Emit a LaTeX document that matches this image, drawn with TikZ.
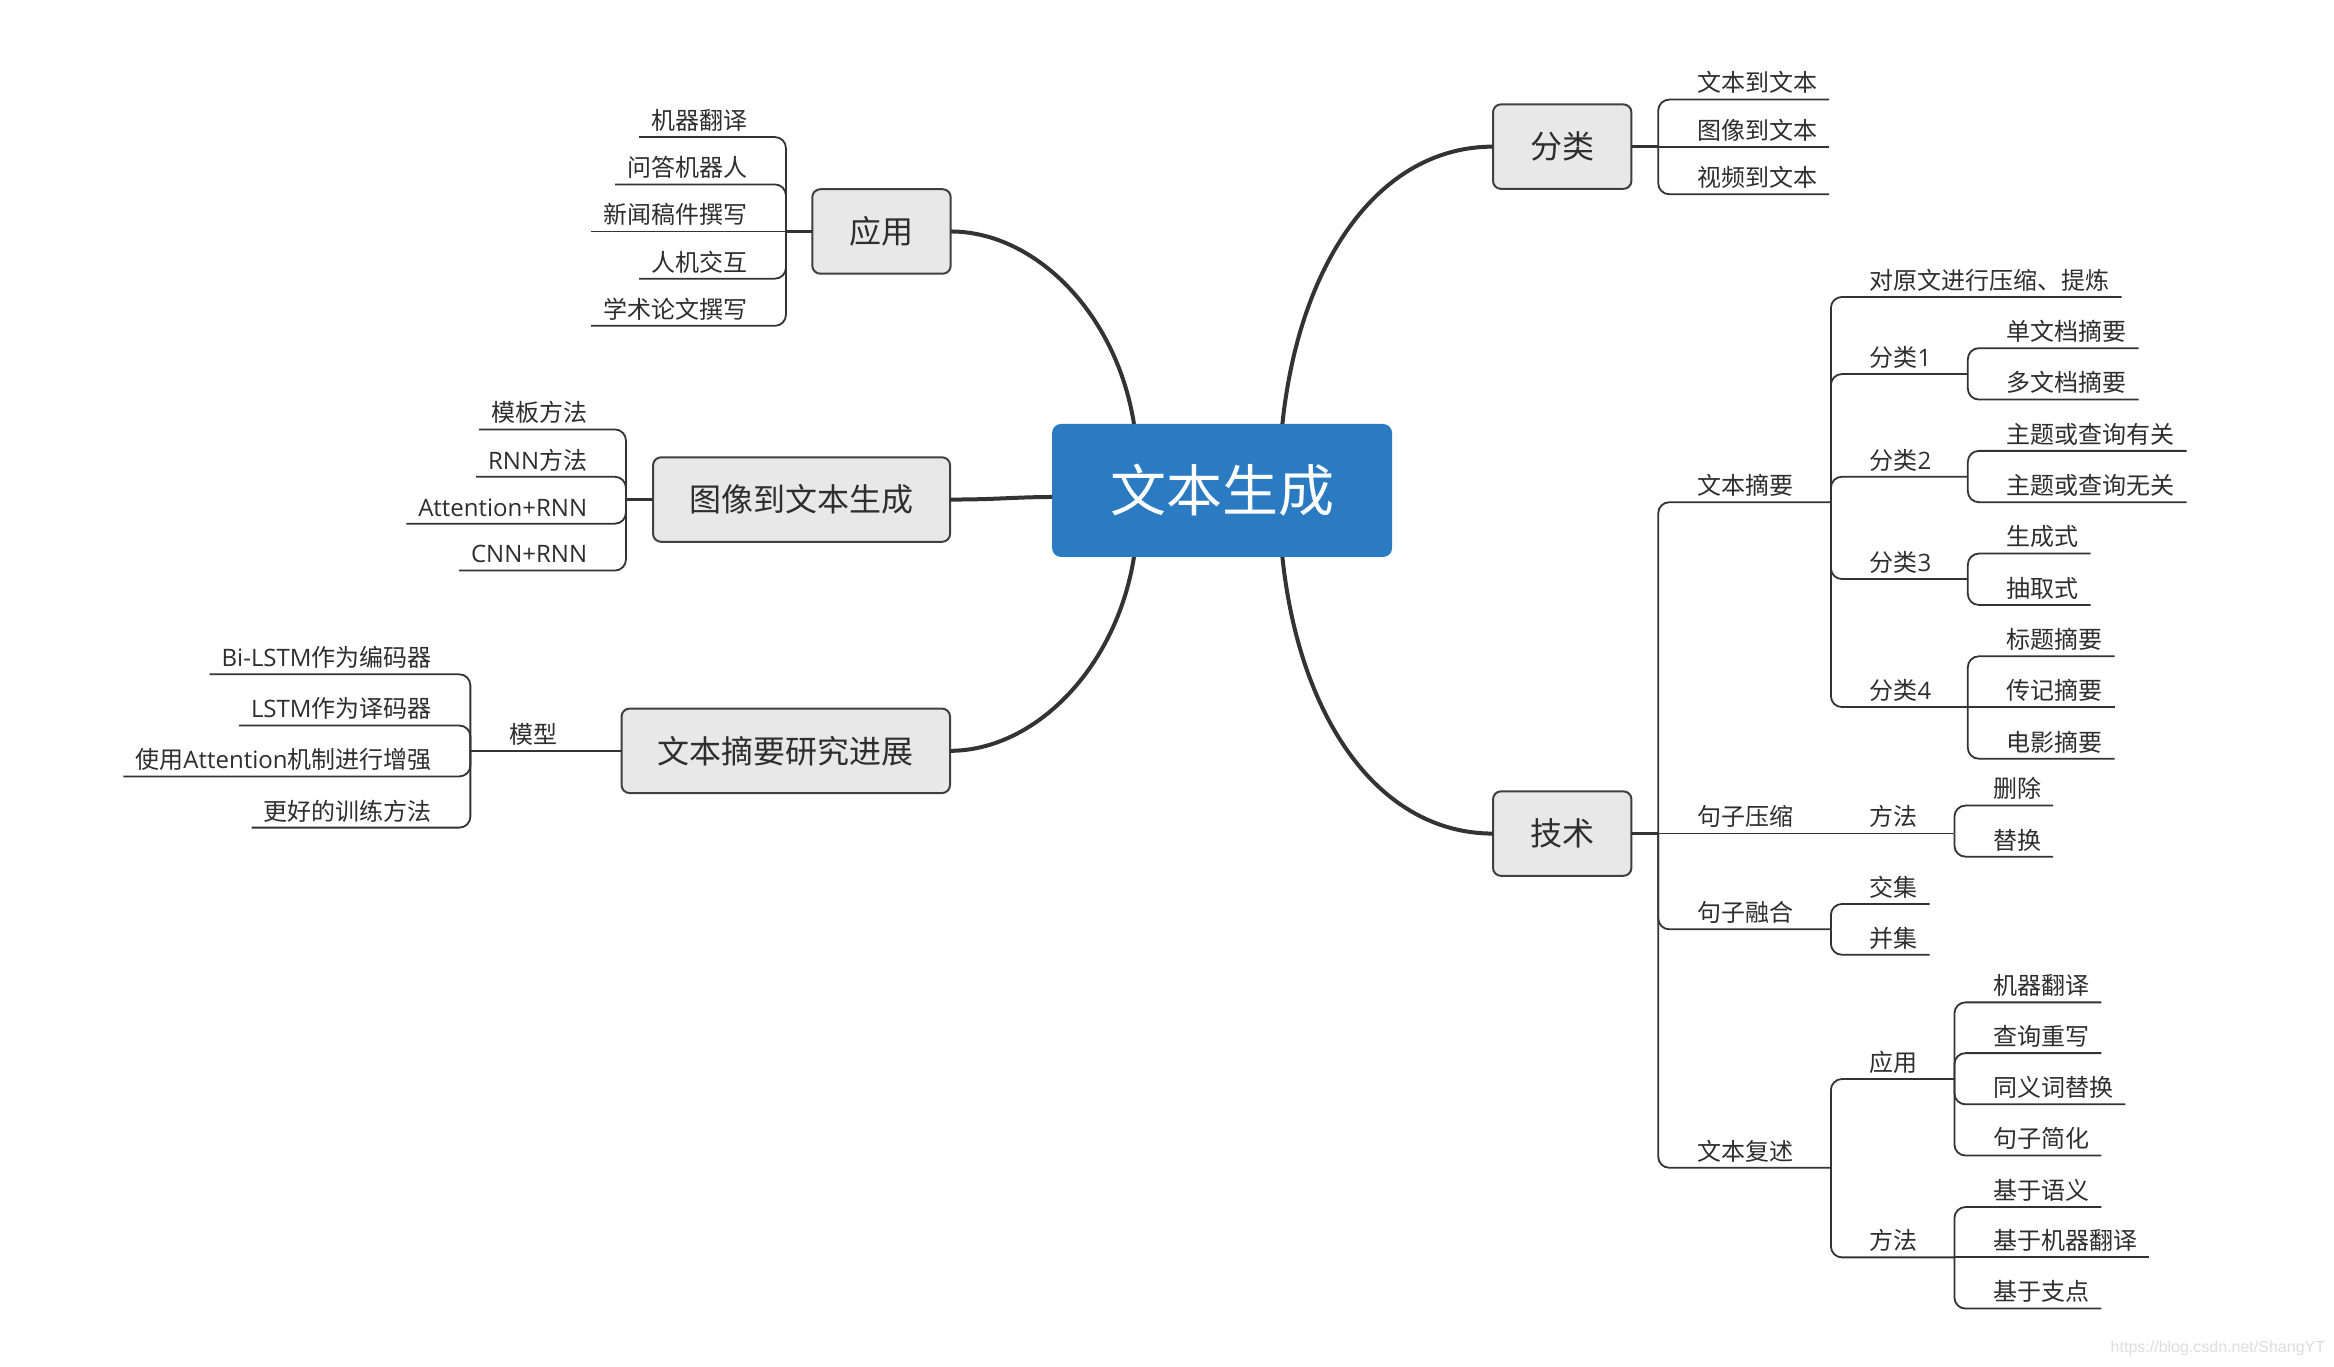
\documentclass[tikz,border=0pt]{standalone}
\usepackage{fontspec}
\setmainfont{Noto Sans CJK SC}
\newfontfamily\lat{Open Sans}
\newfontfamily\wmfont{Liberation Sans}
\definecolor{linec}{HTML}{333333}
\definecolor{boxfill}{HTML}{E8E8E8}
\definecolor{boxdraw}{HTML}{404040}
\definecolor{mainblue}{HTML}{2B7BC3}
\definecolor{txt}{HTML}{2E2E2E}
\tikzset{
 leaf/.style={font=\fontsize{24pt}{28pt}\selectfont, text=txt, inner xsep=12pt, inner ysep=7.6pt, text depth=0pt, outer sep=0pt},
 leafR/.style={leaf, anchor=south west},
 leafL/.style={leaf, anchor=south east},
 tree/.style={draw=linec, line width=1.8pt, rounded corners=11pt},
 boxline/.style={draw=linec, line width=3pt},
 mainline/.style={draw=linec, line width=4pt},
 topic/.style={draw=boxdraw, line width=2pt, fill=boxfill, rounded corners=8pt, font=\fontsize{32pt}{38pt}\selectfont, text=txt, minimum height=84.5pt, inner sep=0pt, outer sep=0pt},
 central/.style={fill=mainblue, rounded corners=9pt, text=white, font=\fontsize{56pt}{64pt}\selectfont, minimum width=340pt, minimum height=133pt, inner sep=0pt, outer sep=0pt},
}
\begin{document}
\begin{tikzpicture}[x=1.4885pt, y=-1.4885pt]
\fill[white] (0,0) rectangle (1568,917.7);
\useasboundingbox (0,0) rectangle (1568,917.7);

% central and topics
\node[central] (c) at (821,329.5) {文本生成};
\node[topic, minimum width=138.4pt] (fenlei) at (1049.5,98.5) {分类};
\node[topic, minimum width=138.4pt] (jishu) at (1049.5,560) {技术};
\node[topic, minimum width=138.4pt] (yingyong) at (592.2,155.5) {应用};
\node[topic, minimum width=297pt] (tuxiang) at (538.5,335.6) {图像到文本生成};
\node[topic, minimum width=328.4pt] (research) at (527.9,504.4) {文本摘要研究进展};

% main curves
\draw[mainline] ([xshift=60.3pt]c.north) .. controls (873,175) and (927,98.5) .. (fenlei.west);
\draw[mainline] ([xshift=60.3pt]c.south) .. controls (873,484) and (927,560) .. (jishu.west);
\draw[mainline] ([xshift=-88.1pt]c.north) .. controls (750,210) and (695,155.5) .. (yingyong.east);
\draw[mainline] ([xshift=-88.1pt]c.south) .. controls (750,449) and (695,504.4) .. (research.east);
\draw[mainline] ([yshift=-6.5pt]c.west) .. controls (680,334) and (670,335.6) .. (tuxiang.east);

% junctions
\coordinate (Jf) at (1114,98.5);
\coordinate (Jt) at (1114,560);
\coordinate (Jzy) at (1230,337.4);
\coordinate (Jff) at (1313,560);
\coordinate (Jrh) at (1230,624.3);
\coordinate (Jfs) at (1230,784.5);
\coordinate (Jc1) at (1322,251.3);
\coordinate (Jc2) at (1322,320.3);
\coordinate (Jc3) at (1322,389);
\coordinate (Jc4) at (1322,475);
\coordinate (Jyy) at (1313,724.9);
\coordinate (Jff2) at (1313,844.7);
\coordinate (Jay) at (528,155.5);
\coordinate (Jtx) at (420.5,335.6);
\coordinate (Jmx) at (316,504.4);

% right: 分类
\node[leafR] (f1) at (1132,66.9) {文本到文本};
\node[leafR] (f2) at (1132,98.5) {图像到文本};
\node[leafR] (f3) at (1132,130.5) {视频到文本};
% right: 技术
\node[leafR] (t1) at (1132,337.4) {文本摘要};
\node[leafR] (t2) at (1132,560) {句子压缩};
\node[leafR] (t3) at (1132,624.3) {句子融合};
\node[leafR] (t4) at (1132,784.5) {文本复述};
\node[leafR] (z0) at (1248,199.5) {对原文进行压缩、提炼};
\node[leafR] (z1) at (1248,251.3) {分类{\lat 1}};
\node[leafR] (z2) at (1248,320.3) {分类{\lat 2}};
\node[leafR] (z3) at (1248,389) {分类{\lat 3}};
\node[leafR] (z4) at (1248,475) {分类{\lat 4}};
\node[leafR] (c11) at (1340,233.9) {单文档摘要};
\node[leafR] (c12) at (1340,268.4) {多文档摘要};
\node[leafR] (c21) at (1340,302.9) {主题或查询有关};
\node[leafR] (c22) at (1340,337.4) {主题或查询无关};
\node[leafR] (c31) at (1340,371.9) {生成式};
\node[leafR] (c32) at (1340,406.4) {抽取式};
\node[leafR] (c41) at (1340,440.9) {标题摘要};
\node[leafR] (c42) at (1340,475) {传记摘要};
\node[leafR] (c43) at (1340,509.7) {电影摘要};
\node[leafR] (s1) at (1248,560) {方法};
\node[leafR] (s11) at (1331,541.2) {删除};
\node[leafR] (s12) at (1331,575.5) {替换};
\node[leafR] (r1) at (1248,607.3) {交集};
\node[leafR] (r2) at (1248,641.4) {并集};
\node[leafR] (p1) at (1248,724.9) {应用};
\node[leafR] (p2) at (1248,844.7) {方法};
\node[leafR] (p11) at (1331,673.4) {机器翻译};
\node[leafR] (p12) at (1331,707.5) {查询重写};
\node[leafR] (p13) at (1331,741.9) {同义词替换};
\node[leafR] (p14) at (1331,776.3) {句子简化};
\node[leafR] (p21) at (1331,810.9) {基于语义};
\node[leafR] (p22) at (1331,844.7) {基于机器翻译};
\node[leafR] (p23) at (1331,879.1) {基于支点};

% left
\node[leafL] (a1) at (510,92.1) {机器翻译};
\node[leafL] (a2) at (510,123.9) {问答机器人};
\node[leafL] (a3) at (510,155.5) {新闻稿件撰写};
\node[leafL] (a4) at (510,187.2) {人机交互};
\node[leafL] (a5) at (510,218.9) {学术论文撰写};
\node[leafL] (i1) at (402.5,288.5) {模板方法};
\node[leafL] (i2) at (402.5,320.3) {{\lat RNN}方法};
\node[leafL] (i3) at (402.5,351.8) {{\lat Attention+RNN}};
\node[leafL] (i4) at (402.5,383.3) {{\lat CNN+RNN}};
\node[leafR] (m0) at (334,504.4) {模型};
\node[leafL] (m1) at (298,453) {{\lat Bi-LSTM}作为编码器};
\node[leafL] (m2) at (298,487.4) {{\lat LSTM}作为译码器};
\node[leafL] (m3) at (298,521.6) {使用{\lat Attention}机制进行增强};
\node[leafL] (m4) at (298,556) {更好的训练方法};

% box connectors
\draw[boxline] (fenlei.east) -- (Jf);
\draw[boxline] (jishu.east) -- (Jt);
\draw[boxline] (yingyong.west) -- (Jay);
\draw[boxline] (tuxiang.west) -- (Jtx);
\draw[tree] (research.west) -- (Jmx);

% tree connectors right
\draw[tree] (Jf) |- (f1.south east);
\draw[tree] (Jf) -- (f2.south east);
\draw[tree] (Jf) |- (f3.south east);
\draw[tree] (Jt) |- (Jzy);
\draw[tree] (Jt) -- (Jff);
\draw[tree] (Jt) |- (Jrh);
\draw[tree] (Jt) |- (Jfs);
\draw[tree] (Jzy) |- (z0.south east);
\draw[tree] (Jzy) |- (Jc1);
\draw[tree] (Jzy) |- (Jc2);
\draw[tree] (Jzy) |- (Jc3);
\draw[tree] (Jzy) |- (Jc4);
\draw[tree] (Jc1) |- (c11.south east);
\draw[tree] (Jc1) |- (c12.south east);
\draw[tree] (Jc2) |- (c21.south east);
\draw[tree] (Jc2) |- (c22.south east);
\draw[tree] (Jc3) |- (c31.south east);
\draw[tree] (Jc3) |- (c32.south east);
\draw[tree] (Jc4) |- (c41.south east);
\draw[tree] (Jc4) -- (c42.south east);
\draw[tree] (Jc4) |- (c43.south east);
\draw[tree] (Jff) |- (s11.south east);
\draw[tree] (Jff) |- (s12.south east);
\draw[tree] (Jrh) |- (r1.south east);
\draw[tree] (Jrh) |- (r2.south east);
\draw[tree] (Jfs) |- (Jyy);
\draw[tree] (Jfs) |- (Jff2);
\draw[tree] (Jyy) |- (p11.south east);
\draw[tree] (Jyy) |- (p12.south east);
\draw[tree] (Jyy) |- (p13.south east);
\draw[tree] (Jyy) |- (p14.south east);
\draw[tree] (Jff2) |- (p21.south east);
\draw[tree] (Jff2) -- (p22.south east);
\draw[tree] (Jff2) |- (p23.south east);

% tree connectors left
\draw[tree] (Jay) |- (a1.south west);
\draw[tree] (Jay) |- (a2.south west);
\draw[tree] (Jay) -- (a3.south west);
\draw[tree] (Jay) |- (a4.south west);
\draw[tree] (Jay) |- (a5.south west);
\draw[tree] (Jtx) |- (i1.south west);
\draw[tree] (Jtx) |- (i2.south west);
\draw[tree] (Jtx) |- (i3.south west);
\draw[tree] (Jtx) |- (i4.south west);
\draw[tree] (Jmx) |- (m1.south west);
\draw[tree] (Jmx) |- (m2.south west);
\draw[tree] (Jmx) |- (m3.south west);
\draw[tree] (Jmx) |- (m4.south west);

% watermark
\node[font=\wmfont\fontsize{16pt}{18pt}\selectfont, text=black!13, inner sep=0pt] (wm) at (1490,905.6) {https://blog.csdn.net/ShangYT};
\end{tikzpicture}
\end{document}
